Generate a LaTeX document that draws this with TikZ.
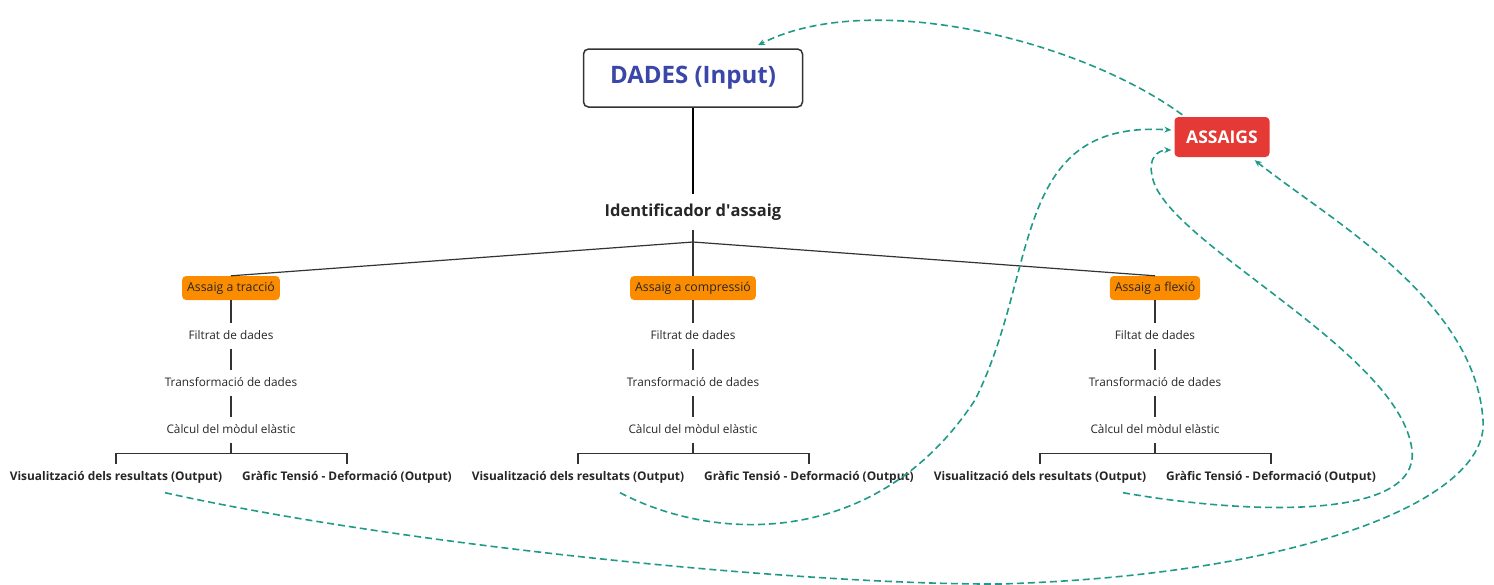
\documentclass[tikz,border=0pt]{standalone}
\usepackage{fontspec}
\setmainfont{Open Sans}
\usepackage{tikz}
\usetikzlibrary{arrows.meta, positioning, calc}
\definecolor{tealink}{HTML}{1F9A88}
\definecolor{orangebox}{HTML}{FB8C00}
\definecolor{redbox}{HTML}{E53935}
\definecolor{bluetxt}{HTML}{3A46A8}
\definecolor{darkline}{HTML}{333333}
\tikzset{%
    mainbox/.style={%
        draw=darkline, line width=1.5pt, rounded corners=5pt, fill=white,
        minimum width=219pt, minimum height=58pt, text=bluetxt,
        font=\fontsize{24}{28}\selectfont\bfseries
    },
    testbox/.style={%
        fill=redbox, rounded corners=4pt, minimum width=95pt, minimum height=40pt,
        text=white, font=\fontsize{17.5}{20}\selectfont\bfseries
    },
    typebox/.style={%
        fill=orangebox, rounded corners=4pt, minimum height=24pt, inner xsep=5pt,
        text=black!85, font=\fontsize{12.3}{14}\selectfont
    },
    stage/.style={%
        text height=8pt, text depth=2pt, inner ysep=7.5pt, inner xsep=0pt,
        text=black!85, font=\fontsize{11.8}{14}\selectfont
    },
    outlabel/.style={%
        stage, font=\fontsize{11.9}{14}\selectfont\bfseries
    },
    treeline/.style={%
        draw=darkline, line width=1.3pt
    },
    link/.style={%
        draw=tealink, line width=1.6pt, dash pattern=on 7pt off 4pt,
        -{Stealth[length=7pt,width=6pt]}
    },
}

\begin{document}
\begin{tikzpicture}[x=1pt, y=-1pt]
    \useasboundingbox (0,0) rectangle (1494,584);

    \node[mainbox] (dades) at (693,78) {DADES (Input)};
    \node[testbox] (assaigs) at (1222,137) {ASSAIGS};
    \node[text height=11pt, text depth=3pt, inner ysep=10.5pt, text=black!85,
          font=\fontsize{16.5}{19}\selectfont\bfseries] (ident) at (693,212) {Identificador d\textquotesingle assaig};
    \coordinate (hub) at (693,242);

    \draw[treeline, line width=2.5pt, draw=black] (dades.south) -- (ident.north);
    \draw[treeline] (ident.south) -- (hub);

    % one branch per type of test
    \foreach \x/\n/\t/\f in {231/tr/{Assaig a tracció}/{Filtrat de dades},
                             693/co/{Assaig a compressió}/{Filtrat de dades},
                             1155/fl/{Assaig a flexió}/{Filtat de dades}}{
        \node[typebox] (type-\n) at (\x,288) {\t};
        \node[stage] (filt-\n) at (\x,336) {\f};
        \node[stage] (trans-\n) at (\x,383) {Transformació de dades};
        \node[stage] (calc-\n) at (\x,430) {Càlcul del mòdul elàstic};
        \node[outlabel] (vis-\n) at (\x-115,477) {Visualització dels resultats (Output)};
        \node[outlabel] (graf-\n) at (\x+116,477) {Gràfic Tensió - Deformació (Output)};

        \draw[treeline, line width=1.2pt] (hub) -- (type-\n.north);
        \draw[treeline] (type-\n.south) -- (filt-\n.north);
        \draw[treeline] (filt-\n.south) -- (trans-\n.north);
        \draw[treeline] (trans-\n.south) -- (calc-\n.north);
        \draw[treeline] (calc-\n.south) -- ++(0,10);
        \draw[treeline] (vis-\n.north) -- ++(0,-11) -| (graf-\n.north);
    }

    % feedback links
    \draw[link] ([xshift=8pt,yshift=2pt]assaigs.north west)
        .. controls (1080,40) and (870,-12) .. ([xshift=65pt,yshift=3pt]dades.north);
    \draw[link] ([xshift=42pt,yshift=-3pt]vis-co.south)
        .. controls (720,545) and (880,545) .. (975,400)
        .. controls (1040,270) and (1010,120) .. ([xshift=-3pt,yshift=7pt]assaigs.west);
    \draw[link] ([xshift=83pt,yshift=-3pt]vis-fl.south)
        .. controls (1250,515) and (1420,520) .. (1412,450)
        .. controls (1400,350) and (1160,240) .. (1152,175)
        .. controls (1148,158) and (1158,150) .. ([xshift=-3pt,yshift=-13pt]assaigs.west);
    \draw[link] ([xshift=49pt,yshift=-3pt]vis-tr.south)
        .. controls (400,545) and (800,585) .. (1000,584)
        .. controls (1300,575) and (1490,500) .. (1483,420)
        .. controls (1475,300) and (1330,220) .. ([xshift=-15pt,yshift=-3pt]assaigs.south east);
\end{tikzpicture}
\end{document}
